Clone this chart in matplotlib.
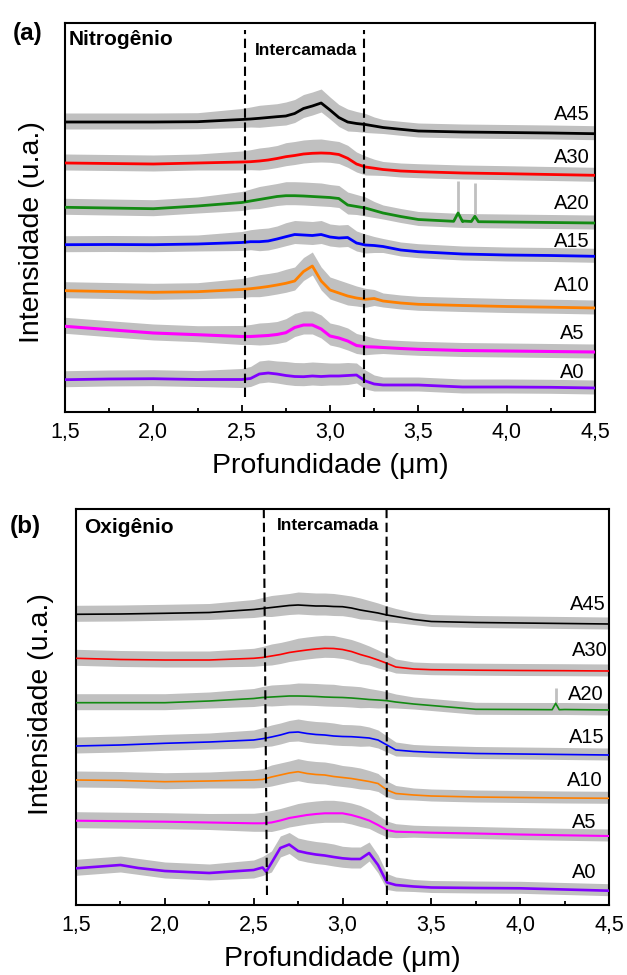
import numpy as np
import matplotlib
matplotlib.use("Agg")
import matplotlib.pyplot as plt

plt.rcParams['font.family'] = ['Liberation Sans', 'DejaVu Sans']

# ---------------- data ----------------
LABELS = ['A0', 'A5', 'A10', 'A15', 'A20', 'A30', 'A45']
X_GRID = [1.5, 1.75, 2.0, 2.25, 2.5, 2.55, 2.6, 2.65, 2.7, 2.75, 2.8, 2.85, 2.9, 2.95,
          3.0, 3.05, 3.1, 3.15, 3.2, 3.25, 3.3, 3.4, 3.5, 3.75, 4.0, 4.25, 4.5]
X_TICKS = [1.5, 2.0, 2.5, 3.0, 3.5, 4.0, 4.5]
X_TICK_LABELS = ['1,5', '2,0', '2,5', '3,0', '3,5', '4,0', '4,5']

# Nitrogen (panel a), stacked intensities (a.u.)
N_A45 = [290, 290, 290, 290.3, 292.5, 293, 293.7, 294.5, 295.3, 296, 298.5, 303.5, 306, 309,
         302, 294.5, 290, 288.5, 287.5, 286, 284.5, 282.7, 281, 280, 279.5, 279, 278.3]
N_A30 = [249, 248.5, 248, 249, 250, 250.3, 251, 252, 253.5, 255.3, 256.5, 258, 258.7, 259,
         258.7, 257.5, 253.7, 248, 245, 243.8, 242.5, 241, 240.3, 239, 238.3, 237.5, 236.7]
N_A20 = [204.7, 204, 203.3, 206, 209.5, 211, 212.5, 214, 215.5, 216.3, 216.3, 216, 215.5, 215,
         214.5, 213.5, 207, 205.5, 204, 201.5, 199, 195.5, 192.5, 190.5, 190, 189.5, 189]
N_A15 = [167.3, 167.5, 167.3, 168, 169.5, 170.3, 170.3, 171, 173, 175.3, 177.5, 177, 176.5, 177.5,
         175, 174, 174.5, 169, 167, 166.5, 165.5, 162, 160.3, 158, 157, 156.5, 155.7]
N_A10 = [121.3, 120.5, 119.7, 120.3, 122.5, 123.3, 124.3, 125.5, 127, 128.7, 131, 140.5, 146, 131,
         122, 119, 116, 114, 112.7, 113.5, 111, 109, 107.7, 106.5, 105.5, 104.8, 104]
N_A5 = [85.7, 82.3, 79, 77.3, 75.5, 75.5, 76, 76.5, 77.5, 79.3, 84.5, 87, 87, 83,
        76, 74, 71, 66.5, 65.3, 65, 64.5, 63.5, 62.7, 61.5, 61, 60.5, 60]
N_A0 = [32.3, 33, 33.3, 32.5, 32.5, 33.5, 38, 39, 38, 36.5, 35.5, 35.3, 36, 35.5,
        36, 36, 36.5, 37, 31, 28, 27, 27, 27, 25, 25, 24.7, 24]
N_A20_EXTRA_X = [3.70, 3.725, 3.75, 3.80, 3.82, 3.84]
N_A20_EXTRA_Y = [190.7, 199, 191, 190.5, 195.7, 190.3]
N_SPIKE_X = [3.725, 3.82]
N_SPIKE_BASE = [199, 195.7]
N_SPIKE_TOP = [230.7, 229]
N_BAND_UP = [9, 9, 9, 9, 11, 12, 13, 13, 13, 14, 14, 14, 14, 14, 13, 13, 13, 12, 11, 9, 8, 8, 8, 8, 8, 8, 8]
N_BAND_DN = [7, 7, 7, 7, 8, 8, 9, 9, 9, 9, 9, 9, 9, 9, 9, 9, 9, 8, 8, 7, 6, 6, 6, 6, 6, 6, 6]
N_DASH_LEFT = ([2.52, 2.52], [15, 382])
N_DASH_RIGHT = ([3.19, 3.19], [15, 382])

# Oxygen (panel b)
O_A45 = [290.7, 291, 291.7, 292.5, 295.5, 296.5, 297.5, 298.5, 299.5, 300, 299.5, 299, 299, 298.5,
         298.3, 297, 295, 293.5, 292, 290, 288.5, 285.5, 283.5, 282.5, 282, 281.5, 281]
O_A30 = [246.7, 245.5, 245, 245, 246.7, 247.5, 249, 250.5, 252.5, 253.8, 255, 256, 256.7, 256.5,
         255.5, 253.5, 250.5, 248, 245, 241.7, 238, 236, 235.3, 234.8, 234.5, 234.3, 234]
O_A20 = [202.3, 202.3, 202.3, 204, 206.5, 207.5, 208, 208.5, 209, 209, 208.8, 208.5, 208, 207.7,
         207.5, 207, 206.3, 205.5, 205, 204.3, 203, 201, 199.5, 195.7, 195.5, 195.5, 195]
O_A15 = [159, 160, 161.7, 163, 165, 166.3, 168, 170, 172.5, 173, 171.5, 170.5, 170, 169,
         168.5, 168.3, 167.7, 167, 165, 160, 155, 153.5, 152.7, 151.5, 151, 150.5, 150]
O_A10 = [125, 124.5, 123.3, 124, 125, 125.5, 128, 130, 132, 133.3, 131.5, 130.5, 130, 128.5,
         127.5, 126.5, 125, 123.5, 121.5, 115, 111.5, 110, 109, 108, 107.5, 107, 106.7]
O_A5 = [84.3, 83.8, 83.3, 82.5, 81.7, 81.7, 82.5, 84.5, 87, 88.5, 90, 91, 91.7, 91.7,
        91.7, 90, 87.5, 84.5, 80, 75, 73.3, 72.8, 72.3, 71.5, 70.5, 69.7, 69]
O_A0 = [36.7, 40, 34, 32, 35, 37.5, 42, 57, 60.5, 54, 52, 50.5, 49.5, 48,
        46.7, 46, 46, 52, 40, 22.5, 20, 18.5, 17.5, 17, 16.7, 15.5, 14.3]
O_A0_EXTRA_X = [1.85, 2.57]
O_A0_EXTRA_Y = [37, 33.3]
O_A20_EXTRA_X = [4.18, 4.2, 4.22]
O_A20_EXTRA_Y = [195.3, 201.7, 195.3]
O_SPIKE_X = [4.2]
O_SPIKE_BASE = [201.7]
O_SPIKE_TOP = [217.3]
O_BAND_UP = [9, 9, 9, 9, 10, 11, 12, 12, 12, 13, 13, 13, 13, 13, 12, 12, 12, 11, 10, 9, 8, 7, 7, 7, 7, 7, 7]
O_BAND_DN = [7, 7, 7, 7, 8, 8, 9, 9, 9, 9, 9, 9, 9, 9, 9, 9, 9, 8, 8, 7, 6, 5, 5, 5, 5, 5, 5]
O_DASH_LEFT = ([2.575, 2.557], [10, 396])
O_DASH_RIGHT = ([3.25, 3.248], [10, 396])

COLORS = ['#8000ff', '#ff00ff', '#ff8000', '#0000ff', '#138a13', '#ff0000', '#000000']
GREY = '#c0c0c0'

# label placement (style)
N_LABEL_X = [4.44, 4.44, 4.47, 4.47, 4.47, 4.47, 4.47]
N_LABEL_Y = [34, 73, 121, 165, 202.5, 249, 292.5]
O_LABEL_X = [4.43, 4.43, 4.466, 4.475, 4.47, 4.49, 4.482]
O_LABEL_Y = [27, 77.5, 118.5, 162, 205, 248.5, 295]

# ---------------- figure ----------------
fig = plt.figure(figsize=(6.27, 9.75), dpi=100)
ax1 = fig.add_axes([65 / 627, 1 - 412 / 975, 530 / 627, 389 / 975])
ax2 = fig.add_axes([76 / 627, 1 - 905 / 975, 533 / 627, 396 / 975])


def merge(xg, yg, ex, ey):
    x = np.concatenate([np.asarray(xg, float), np.asarray(ex, float)])
    y = np.concatenate([np.asarray(yg, float), np.asarray(ey, float)])
    o = np.argsort(x)
    return x[o], y[o]


def draw(ax, curves, extras, band_up, band_dn, lws, spikes, dashes, lab_x, lab_y, ylim,
         title, title_x, title_y, inter_x, inter_y):
    xg = np.asarray(X_GRID)
    for i, y in enumerate(curves):
        y = np.asarray(y, float)
        ax.fill_between(xg, y - np.asarray(band_dn), y + np.asarray(band_up),
                        color=GREY, lw=0, zorder=1)
    sx, sb, st = spikes
    ax.vlines(sx, sb, st, color=GREY, lw=2.0, zorder=1)
    for i, y in enumerate(curves):
        if i in extras:
            x, yy = merge(X_GRID, y, *extras[i])
        else:
            x, yy = xg, np.asarray(y, float)
        ax.plot(x, yy, color=COLORS[i], lw=lws[i], zorder=3, solid_joinstyle='round')
        ax.text(lab_x[i], lab_y[i], LABELS[i], ha='right', va='baseline', fontsize=14.5, zorder=4)
    for dx, dy in dashes:
        ax.plot(dx, dy, color='black', lw=1.5, ls=(0, (4.5, 2.2)), zorder=4)
    ax.set_xlim(1.5, 4.5)
    ax.set_ylim(*ylim)
    ax.set_xticks(X_TICKS, labels=X_TICK_LABELS)
    ax.set_xticks(np.arange(1.75, 4.5, 0.5), minor=True)
    ax.set_yticks([])
    ax.tick_params(axis='x', which='major', direction='in', length=5, width=1.3,
                   labelsize=15.5, pad=7, top=False)
    ax.tick_params(axis='x', which='minor', direction='in', length=2.8, width=1.3, top=False)
    for s in ax.spines.values():
        s.set_linewidth(1.5)
    ax.text(title_x, title_y, title, transform=ax.transAxes, ha='left', va='baseline',
            fontsize=15, fontweight='bold')
    ax.text(inter_x, inter_y, 'Intercamada', ha='center', va='baseline',
            fontsize=12.5, fontweight='bold', zorder=5)


draw(ax1, [N_A0, N_A5, N_A10, N_A15, N_A20, N_A30, N_A45],
     {4: (N_A20_EXTRA_X, N_A20_EXTRA_Y)}, N_BAND_UP, N_BAND_DN,
     [2.0, 2.2, 2.0, 2.0, 2.0, 2.0, 2.0],
     (N_SPIKE_X, N_SPIKE_BASE, N_SPIKE_TOP), [N_DASH_LEFT, N_DASH_RIGHT],
     N_LABEL_X, N_LABEL_Y, (0, 389), 'Nitrogênio', 0.007, 0.944, 2.866, 357)

draw(ax2, [O_A0, O_A5, O_A10, O_A15, O_A20, O_A30, O_A45],
     {0: (O_A0_EXTRA_X, O_A0_EXTRA_Y), 4: (O_A20_EXTRA_X, O_A20_EXTRA_Y)}, O_BAND_UP, O_BAND_DN,
     [1.9, 1.5, 1.2, 1.2, 1.2, 1.2, 1.2],
     (O_SPIKE_X, O_SPIKE_BASE, O_SPIKE_TOP), [O_DASH_LEFT, O_DASH_RIGHT],
     O_LABEL_X, O_LABEL_Y, (0, 396), 'Oxigênio', 0.015, 0.939, 2.92, 375)

fig.text(13 / 627, 1 - 40 / 975, '(a)', fontsize=17.5, fontweight='bold', ha='left', va='baseline')
fig.text(10 / 627, 1 - 533 / 975, '(b)', fontsize=17.5, fontweight='bold', ha='left', va='baseline')

fig.text(32 / 627, 1 - 232.5 / 975, 'Intensidade (u.a.)', rotation=90, ha='center', va='center', fontsize=20.5)
fig.text(41 / 627, 1 - 704.5 / 975, 'Intensidade (u.a.)', rotation=90, ha='center', va='center', fontsize=20.5)
fig.text(330 / 627, 1 - 473 / 975, 'Profundidade (μm)', ha='center', va='baseline', fontsize=20.5)
fig.text(342 / 627, 1 - 966 / 975, 'Profundidade (μm)', ha='center', va='baseline', fontsize=20.5)

fig.savefig('out.png', dpi=100)
